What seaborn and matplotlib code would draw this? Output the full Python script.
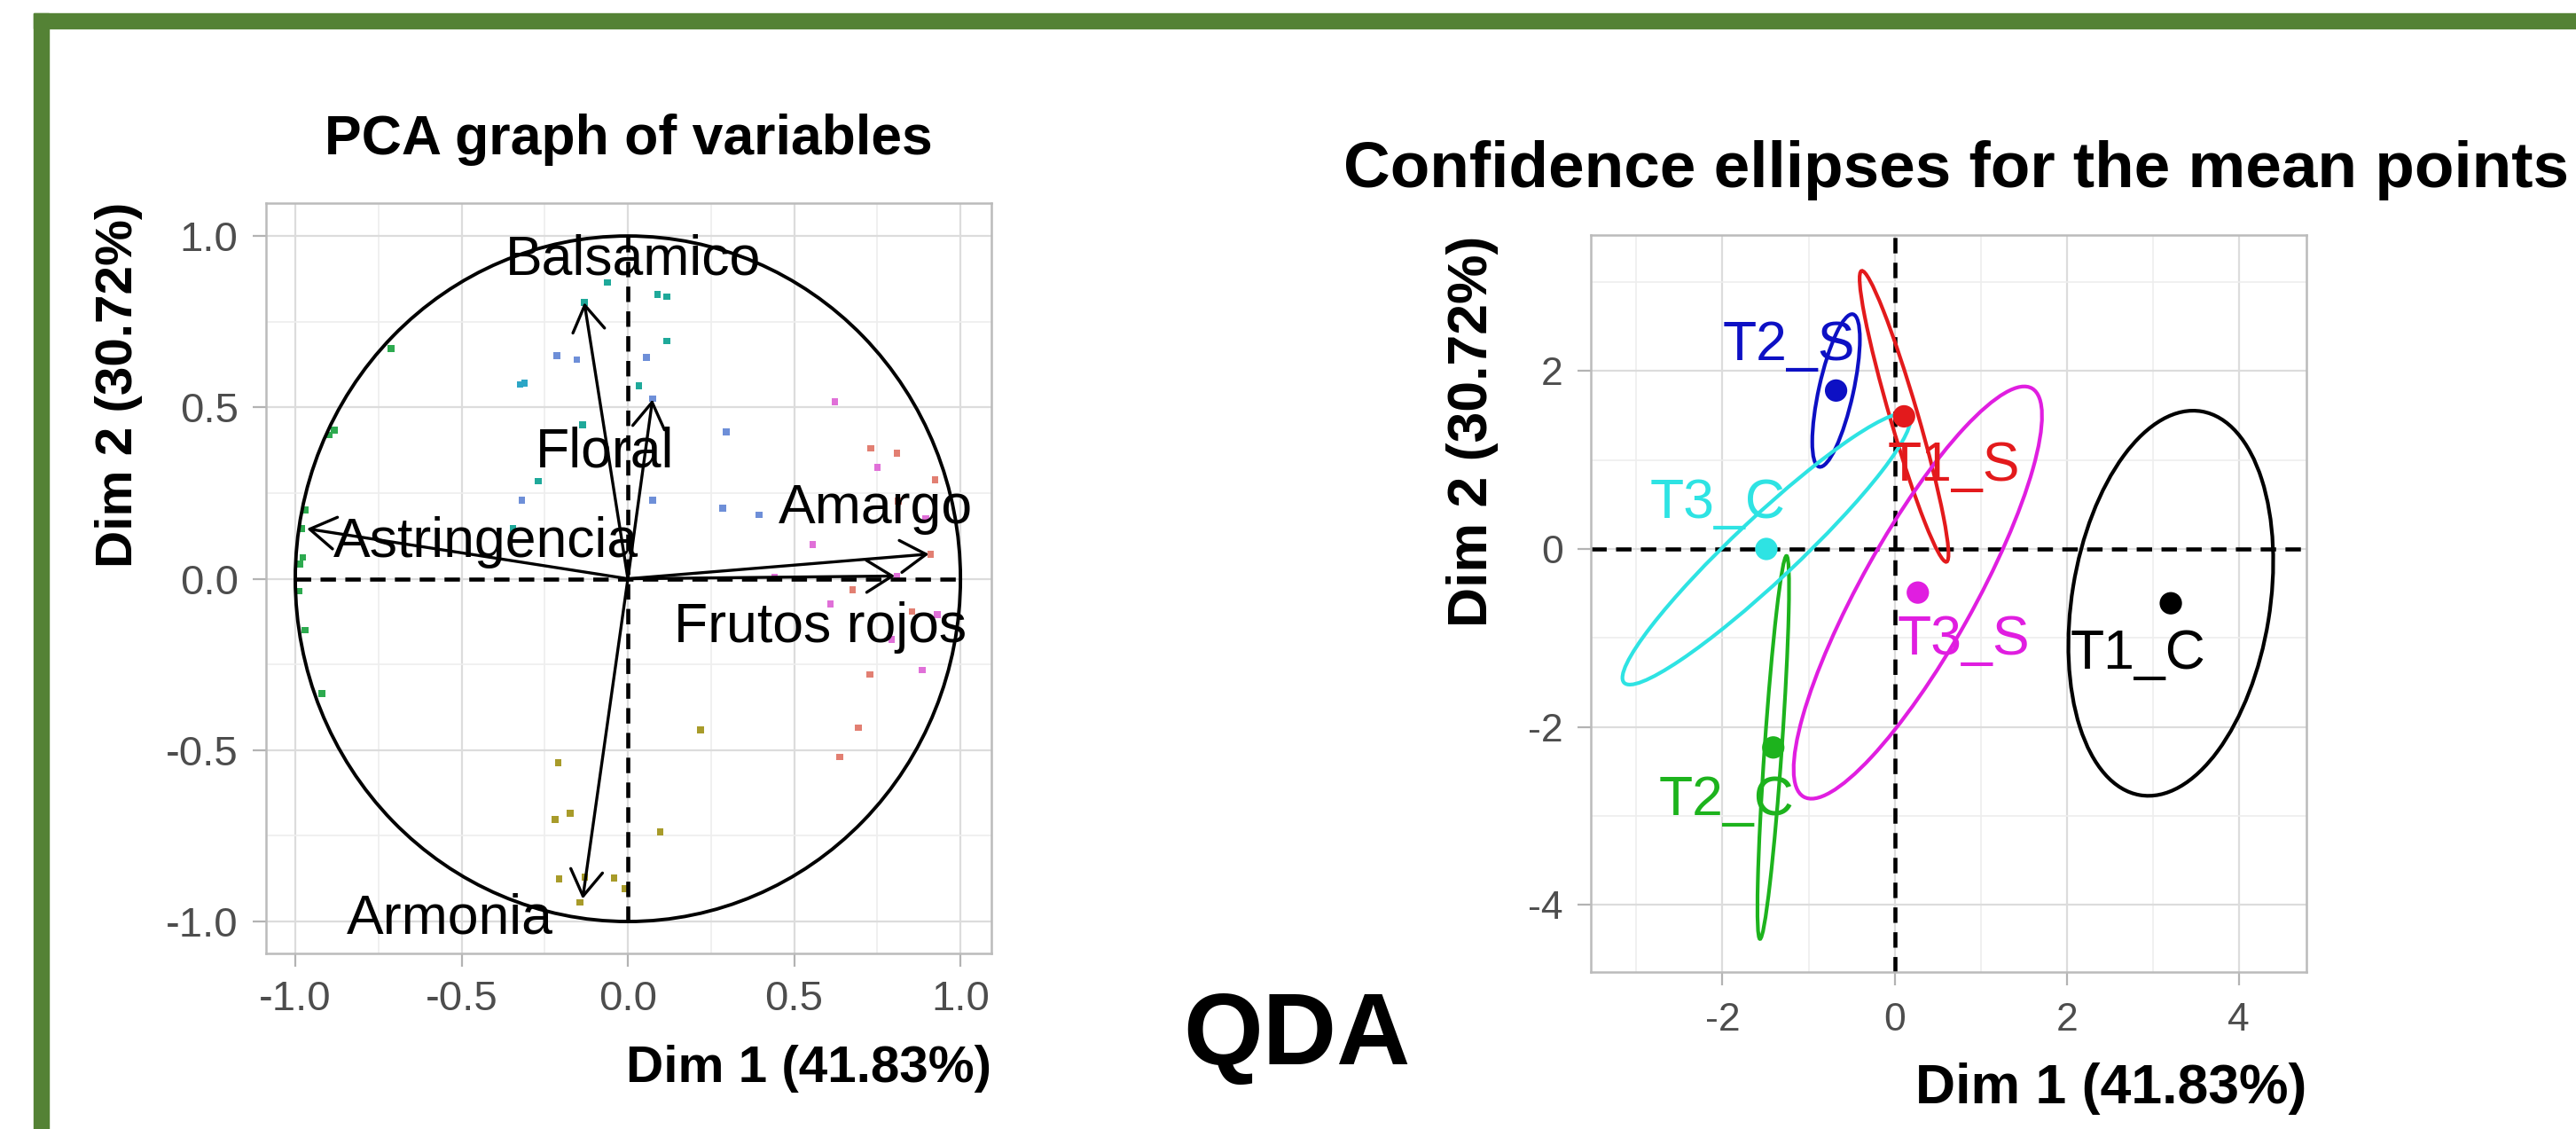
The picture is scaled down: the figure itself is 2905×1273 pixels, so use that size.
import matplotlib
matplotlib.use('Agg')
import matplotlib.pyplot as plt
from matplotlib.patches import Ellipse, Circle, Rectangle
import pandas as pd
import seaborn as sns

W, H = 2905, 1273

# ---------------- left panel: PCA graph of variables ----------------
variables = ['Balsamico', 'Floral', 'Amargo', 'Frutos rojos', 'Astringencia', 'Armonia']
var_dim1 = [-0.131, 0.074, 0.905, 0.803, -0.965, -0.136]
var_dim2 = [0.806, 0.523, 0.072, 0.008, 0.146, -0.934]
# label anchors (centre x, baseline y)
var_lab_x = [0.016, -0.069, 0.744, 0.579, -0.426, -0.536]
var_lab_y = [0.889, 0.325, 0.162, -0.186, 0.063, -1.034]

# small coloured squares behind the arrows
teal_x = [-0.062, 0.089, 0.117, -0.131, 0.117, 0.033, -0.136, -0.270, -0.345]
teal_y = [0.864, 0.830, 0.823, 0.806, 0.694, 0.563, 0.449, 0.285, 0.147]
sky_x = [-0.324, -0.311]
sky_y = [0.567, 0.570]
blue_x = [-0.214, -0.153, 0.056, 0.074, 0.296, -0.319, 0.074, 0.285, 0.395]
blue_y = [0.651, 0.639, 0.645, 0.525, 0.429, 0.229, 0.229, 0.206, 0.186]
pink_x = [0.622, 0.750, 0.895, 0.556, 0.441, 0.809, 0.609, 0.931, 0.793, 0.885]
pink_y = [0.516, 0.325, 0.176, 0.100, 0.005, 0.008, -0.074, -0.104, -0.177, -0.266]
salmon_x = [0.730, 0.809, 0.924, 0.910, 0.676, 0.854, 0.727, 0.693, 0.637, 0.813]
salmon_y = [0.381, 0.367, 0.288, 0.072, -0.032, -0.096, -0.279, -0.434, -0.520, 0.226]
olive_x = [0.219, -0.209, -0.219, -0.173, 0.097, -0.207, -0.130, -0.042, -0.008, -0.144]
olive_y = [-0.441, -0.536, -0.702, -0.684, -0.738, -0.875, -0.870, -0.873, -0.904, -0.944]
green_x = [-0.712, -0.883, -0.898, -0.970, -0.980, -0.977, -0.985, -0.990, -0.971, -0.920]
green_y = [0.671, 0.434, 0.419, 0.201, 0.147, 0.062, 0.043, -0.036, -0.150, -0.335]

sq_colors = {'teal': '#1FA99A', 'sky': '#2CA6C6', 'blue': '#6E8FD8', 'pink': '#E070D8',
             'salmon': '#E27F72', 'olive': '#A89B2A', 'green': '#2DAA4F'}

# ---------------- right panel: confidence ellipses ----------------
groups = ['T1_C', 'T1_S', 'T2_C', 'T2_S', 'T3_C', 'T3_S']
group_colors = ['black', '#E31A1C', '#1DB31D', '#0D10C4', '#2EE3E3', '#E01EE0']
mean_dim1 = [3.21, 0.11, -1.41, -0.68, -1.49, 0.27]
mean_dim2 = [-0.61, 1.49, -2.23, 1.78, 0.0, -0.49]
ell_a = [2.185, 1.707, 2.157, 0.879, 2.234, 2.65]
ell_b = [1.15, 0.16, 0.10, 0.20, 0.36, 0.65]
ell_angle = [80.5, 106.8, 85.9, 77.1, 42.2, 59.9]
grp_lab_x = [2.83, 0.69, -1.953, -1.227, -2.057, 0.806]
grp_lab_y = [-1.343, 0.77, -2.99, 2.125, 0.347, -1.187]

sns.set_theme(style='whitegrid')
plt.rcParams['font.family'] = ['Liberation Sans', 'DejaVu Sans']
plt.rcParams['axes.unicode_minus'] = False
plt.rcParams['text.color'] = 'black'

fig = plt.figure(figsize=(W / 100, H / 100), dpi=100)
fig.patch.set_facecolor('white')


def px_box(left, top, right, bottom):
    return [left / W, 1 - bottom / H, (right - left) / W, (bottom - top) / H]


def style_axes(ax, major_x, minor_x, major_y, minor_y, lsize, xpad, ypad):
    ax.set_facecolor('white')
    ax.set_xticks(major_x)
    ax.set_xticks(minor_x, minor=True)
    ax.set_yticks(major_y)
    ax.set_yticks(minor_y, minor=True)
    ax.grid(which='major', color='#DCDCDC', lw=1.6, zorder=0)
    ax.grid(which='minor', color='#EEEEEE', lw=1.2, zorder=0)
    ax.set_axisbelow(True)
    for sp in ax.spines.values():
        sp.set_color('#BBBBBB')
        sp.set_linewidth(1.8)
    ax.tick_params(which='major', bottom=True, left=True, direction='out',
                   length=10.5, width=1.6, color='#B3B3B3', labelcolor='#4D4D4D',
                   labelsize=lsize)
    ax.tick_params(axis='x', which='major', pad=xpad)
    ax.tick_params(axis='y', which='major', pad=ypad)
    ax.tick_params(which='minor', length=0)
    ax.set_xlabel('')
    ax.set_ylabel('')


dash = (3.8, 2.3)

# ---- left ----
ax1 = fig.add_axes(px_box(300, 229, 1118, 1075))
sq = pd.DataFrame({
    'x': teal_x + sky_x + blue_x + pink_x + salmon_x + olive_x + green_x,
    'y': teal_y + sky_y + blue_y + pink_y + salmon_y + olive_y + green_y,
    'g': (['teal'] * len(teal_x) + ['sky'] * len(sky_x) + ['blue'] * len(blue_x)
          + ['pink'] * len(pink_x) + ['salmon'] * len(salmon_x)
          + ['olive'] * len(olive_x) + ['green'] * len(green_x)),
})
sns.scatterplot(data=sq, x='x', y='y', hue='g', palette=sq_colors, marker='s',
                s=30, linewidth=0, legend=False, ax=ax1, zorder=2)
ax1.add_patch(Circle((0, 0), 1, fill=False, ec='black', lw=2.8, zorder=3))
ax1.plot([-1, 1], [0, 0], color='black', lw=3.3, dashes=dash, zorder=3)
ax1.plot([0, 0], [-1, 1], color='black', lw=3.3, dashes=dash, zorder=3)
for name, vx, vy, lx, ly in zip(variables, var_dim1, var_dim2, var_lab_x, var_lab_y):
    ax1.annotate('', xy=(vx, vy), xytext=(0, 0),
                 arrowprops=dict(arrowstyle='->, head_length=0.4, head_width=0.25',
                                 lw=2.4, color='black', shrinkA=0, shrinkB=0,
                                 mutation_scale=52), zorder=4)
    ax1.text(lx, ly, name, ha='center', va='baseline', fontsize=45, color='black', zorder=5)
ax1.set_xlim(-1.088, 1.093)
ax1.set_ylim(-1.093, 1.096)
style_axes(ax1, [-1.0, -0.5, 0.0, 0.5, 1.0], [-0.75, -0.25, 0.25, 0.75],
           [-1.0, -0.5, 0.0, 0.5, 1.0], [-0.75, -0.25, 0.25, 0.75], 34, 11, 12)
ax1.set_xticklabels(['-1.0', '-0.5', '0.0', '0.5', '1.0'])
ax1.set_yticklabels(['-1.0', '-0.5', '0.0', '0.5', '1.0'])

fig.text(709 / W, 1 - 174 / H, 'PCA graph of variables', ha='center', va='baseline',
         fontsize=45, fontweight='bold', color='black')
fig.text(1118 / W, 1 - 1220 / H, 'Dim 1 (41.83%)', ha='right', va='baseline',
         fontsize=42, fontweight='bold', color='black')
fig.text(134 / W, 1 - 228 / H, 'Dim 2 (30.72%)', ha='center', va='top', rotation=90,
         fontsize=42, fontweight='bold', color='black')

# ---- right ----
ax2 = fig.add_axes(px_box(1794, 265, 2601, 1096))
ax2.axhline(0, color='black', lw=3.3, dashes=dash, zorder=2)
ax2.axvline(0, color='black', lw=3.3, dashes=dash, zorder=2)
for cx, cy, a, b, ang, col in zip(mean_dim1, mean_dim2, ell_a, ell_b, ell_angle, group_colors):
    ax2.add_patch(Ellipse((cx, cy), 2 * a, 2 * b, angle=ang, fill=False, ec=col,
                          lw=3.0, zorder=3))
means = pd.DataFrame({'x': mean_dim1, 'y': mean_dim2, 'g': groups})
sns.scatterplot(data=means, x='x', y='y', hue='g', palette=dict(zip(groups, group_colors)),
                s=330, linewidth=0, legend=False, ax=ax2, zorder=4)
for name, lx, ly, col in zip(groups, grp_lab_x, grp_lab_y, group_colors):
    ax2.text(lx, ly, name, ha='center', va='baseline', fontsize=45, color=col, zorder=5)
ax2.set_xlim(-3.53, 4.786)
ax2.set_ylim(-4.753, 3.527)
style_axes(ax2, [-2, 0, 2, 4], [-3, -1, 1, 3], [-4, -2, 0, 2], [-3, -1, 1, 3], 32, 14, 12)

fig.text(2206 / W, 1 - 211 / H, 'Confidence ellipses for the mean points', ha='center',
         va='baseline', fontsize=52.5, fontweight='bold', color='black')
fig.text(2601 / W, 1 - 1244 / H, 'Dim 1 (41.83%)', ha='right', va='baseline',
         fontsize=45, fontweight='bold', color='black')
fig.text(1660 / W, 1 - 266 / H, 'Dim 2 (30.72%)', ha='center', va='top', rotation=90,
         fontsize=45, fontweight='bold', color='black')

# centre caption
fig.text(1462 / W, 1 - 1200 / H, 'QDA', ha='center', va='baseline', fontsize=83,
         fontweight='bold', color='black')

# green frame (left and top edges)
frame = '#548235'
fig.add_artist(Rectangle((38 / W, 0), 17 / W, 1 - 15 / H, transform=fig.transFigure,
                         color=frame, zorder=10))
fig.add_artist(Rectangle((38 / W, 1 - 32 / H), 1 - 38 / W, 17 / H, transform=fig.transFigure,
                         color=frame, zorder=10))

fig.savefig('out.png', dpi=100)
